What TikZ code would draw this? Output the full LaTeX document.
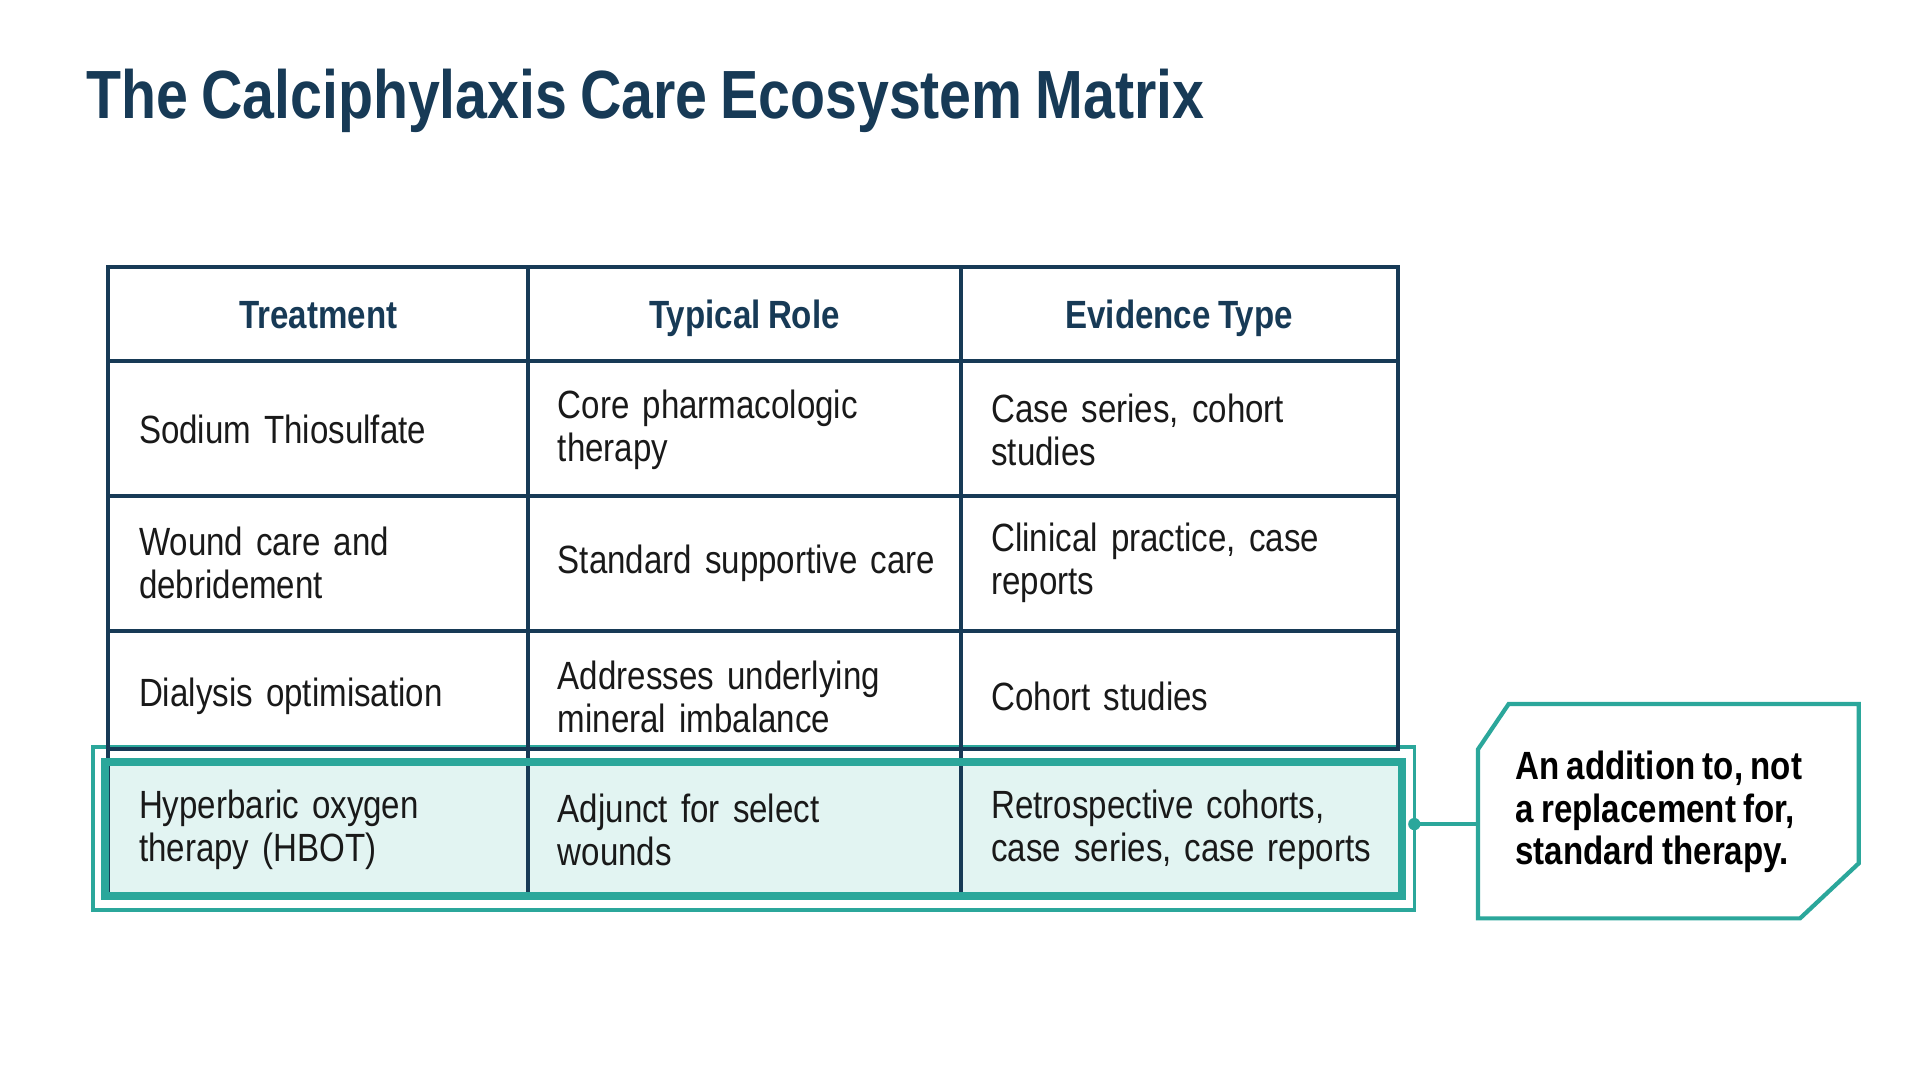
\documentclass[tikz,border=0pt]{standalone}
\usepackage{fontspec}
\setmainfont{Liberation Sans}[FakeStretch=0.84,WordSpace=0.8]
\usetikzlibrary{positioning}
\definecolor{navy}{HTML}{173A56}
\definecolor{teal}{HTML}{2BA79B}
\definecolor{tealfill}{HTML}{E2F4F2}
\tikzset{
  cell/.style={anchor=west,align=left,text width=320*0.012245cm,inner sep=0pt,
    font=\fontsize{11.2}{12.2}\selectfont,text=black!90},
  head/.style={anchor=base,font=\bfseries\fontsize{11.2}{12.2}\selectfont,text=navy,inner sep=0pt},
  grid/.style={navy,line width=1.1pt}
}
\begin{document}
\begin{tikzpicture}[x=0.012245cm,y=-0.012245cm]
  \useasboundingbox (0,0) rectangle (1568,875.5);
  \node[anchor=west,font=\bfseries\fontsize{19.4}{20}\selectfont,text=navy,inner sep=0pt]
    (title) at (70,82) {The Calciphylaxis Care Ecosystem Matrix};
  % highlighted row
  \fill[tealfill] (86,622) rectangle (1145,732);
  \draw[teal,line width=1pt] (76,610) rectangle (1155,743);
  % grid
  \draw[grid] (88,218) rectangle (1142,612);
  \foreach \y in {295,405,515} \draw[grid] (88,\y) -- (1142,\y);
  \foreach \x in {431,785} \draw[grid] (\x,218) -- (\x,732);
  \draw[grid] (88,612) -- (88,732);
  \draw[teal,line width=2.3pt] (86,622) rectangle (1145,732);
  % header
  \node[head] (h1) at (260,268) {Treatment};
  \node[head] (h2) at (608,268) {Typical Role};
  \node[head] (h3) at (963,268) {Evidence Type};
  % rows
  \node[cell] (a1) at (113,351) {Sodium Thiosulfate};
  \node[cell] (b1) at (455,351) {Core pharmacologic\\therapy};
  \node[cell] (c1) at (809,351) {Case series, cohort\\studies};
  \node[cell] (a2) at (113,460) {Wound care and\\debridement};
  \node[cell] (b2) at (455,460) {Standard supportive care};
  \node[cell] (c2) at (809,460) {Clinical practice, case\\reports};
  \node[cell] (a3) at (113,569) {Dialysis optimisation};
  \node[cell] (b3) at (455,569) {Addresses underlying\\mineral imbalance};
  \node[cell] (c3) at (809,569) {Cohort studies};
  \node[cell] (a4) at (113,678) {Hyperbaric oxygen\\therapy (HBOT)};
  \node[cell] (b4) at (455,678) {Adjunct for select\\wounds};
  \node[cell] (c4) at (809,678) {Retrospective cohorts,\\case series, case reports};
  % callout
  \draw[teal,line width=1.2pt,fill=white] (1207,612) -- (1232,575) -- (1518,575)
    -- (1518,705) -- (1470,750) -- (1207,750) -- cycle;
  \node[anchor=west,align=left,inner sep=0pt,font=\bfseries\fontsize{11.2}{12.2}\selectfont]
    (note) at (1237,663) {An addition to, not\\a replacement for,\\standard therapy.};
  \coordinate (hl) at (1155,673);
  \coordinate (cl) at (1207,673);
  \draw[teal,line width=1.2pt] (hl) -- (cl);
  \fill[teal] (hl) circle (5);
\end{tikzpicture}
\end{document}
